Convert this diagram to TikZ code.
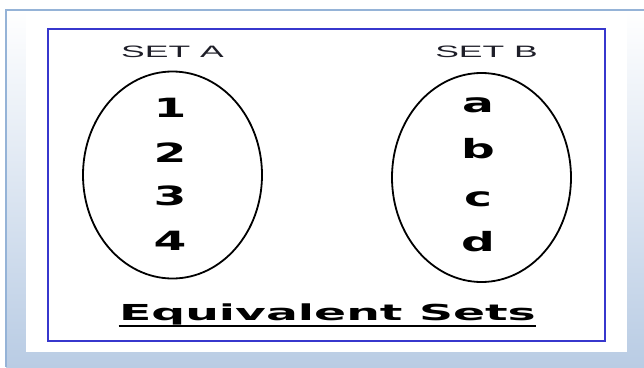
\documentclass[tikz,border=0pt]{standalone}
\usepackage{fontspec}
\setmainfont{DejaVu Sans}
\newfontfamily\capsfont{Liberation Sans}
\usetikzlibrary{shapes.geometric,positioning}
\definecolor{frameblue}{RGB}{149,179,215}
\definecolor{sky}{RGB}{185,204,228}
\definecolor{royal}{RGB}{55,55,205}
\definecolor{ink}{RGB}{30,30,40}
\tikzset{
  ring/.style={ellipse,draw=black,line width=1.8pt,inner sep=0pt,
    minimum width=179pt,minimum height=#1},
  ring/.default=207pt,
  setlabel/.style={font=\capsfont\fontsize{16.5}{16.5}\selectfont,text=ink,
    xscale=2.15,inner sep=0pt,anchor=base},
  elem/.style={font=\bfseries\fontsize{26.5}{26.5}\selectfont,xscale=1.78,
    inner sep=0pt,anchor=base},
  title/.style={font=\bfseries\fontsize{22}{22}\selectfont,xscale=2.15,
    inner sep=0pt,anchor=base},
}

\begin{document}
\begin{tikzpicture}[x=1pt,y=-1pt]
  \useasboundingbox (0,0) rectangle (644,367);
  % page background
  \shade[top color=white,bottom color=sky] (6,10) rectangle (644,367);
  \draw[frameblue,line width=1.5pt] (6,367) -- (6,10) -- (644,10);
  \fill[white] (26,12) rectangle (627,352);
  \draw[royal,line width=2.2pt] (48,29) rectangle (605,341);

  % the two sets
  \node[ring] (setA) at (172.5,175) {};
  \node[ring=209pt] (setB) at (481.5,177.5) {};
  \node[setlabel] (labA) at (172.5,57) {SET A};
  \node[setlabel] (labB) at (486.5,57) {SET B};

  \foreach \d/\y [count=\i] in {1/117,2/162,3/205,4/250}
    \node[elem] (num\i) at (170,\y) {\d};
  \foreach \c/\y [count=\i] in {a/112,b/158,c/206,d/251}
    \node[elem] (let\i) at (478,\y) {\c};

  \node[title] (title) at (327.5,320.5) {Equivalent Sets};
  \draw[line width=1.6pt] ([yshift=-5.5pt]title.base west) -- ([yshift=-5.5pt]title.base east);
\end{tikzpicture}
\end{document}
